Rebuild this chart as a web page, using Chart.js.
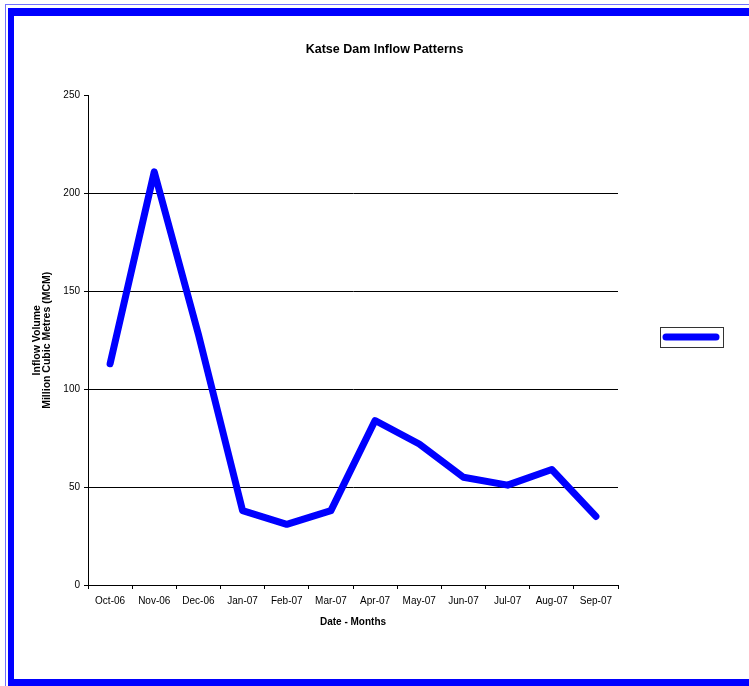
<!DOCTYPE html>
<html>
<head>
<meta charset="utf-8">
<script src="https://cdn.jsdelivr.net/npm/chart.js@4"></script>
<style>
  body { margin: 0; background: #fff; overflow: hidden; }
  #frame-outer { position: absolute; left: 5px; top: 4px; width: 800px; height: 700px; border: 1px solid #7070ff; }
  #frame-inner { position: absolute; left: 8px; top: 8px; width: 800px; height: 663px; border-style: solid; border-color: #0000ff; border-width: 8px 0 7px 6px; }
  #chart { position: absolute; left: 0; top: 0; }
</style>
</head>
<body>
<div id="frame-outer"></div>
<div id="frame-inner"></div>
<canvas id="chart" width="749" height="686"></canvas>
<script>
const months = ["Oct-06", "Nov-06", "Dec-06", "Jan-07", "Feb-07", "Mar-07",
                "Apr-07", "May-07", "Jun-07", "Jul-07", "Aug-07", "Sep-07"];
const inflow = [113, 211, 128, 38, 31, 38, 84, 72, 55, 51, 59, 35];
const yTicks = [0, 50, 100, 150, 200, 250];

const font = "'Liberation Sans', Arial, sans-serif";

// legend box on the right (line sample only, no text)
const legendBox = {
  id: "legendBox",
  afterDraw(chart) {
    const ctx = chart.ctx;
    const ds = chart.data.datasets[0];
    ctx.save();
    ctx.strokeStyle = "#333";
    ctx.lineWidth = 1;
    ctx.strokeRect(660.5, 327.5, 63, 20);
    ctx.strokeStyle = ds.borderColor;
    ctx.lineWidth = ds.borderWidth;
    ctx.lineCap = "round";
    ctx.beginPath();
    ctx.moveTo(666, 337);
    ctx.lineTo(716, 337);
    ctx.stroke();
    ctx.restore();
  }
};

new Chart(document.getElementById("chart"), {
  type: "line",
  data: {
    labels: months,
    datasets: [{
      label: "",
      data: inflow,
      borderColor: "#0000ff",
      borderWidth: 7,
      borderCapStyle: "round",
      borderJoinStyle: "round",
      pointRadius: 0,
      tension: 0
    }]
  },
  options: {
    responsive: false,
    animation: false,
    layout: { padding: { left: 20, right: 0, top: 0, bottom: 0 } },
    plugins: {
      legend: { display: false },
      tooltip: { enabled: false },
      title: {
        display: true,
        text: "Katse Dam Inflow Patterns",
        color: "#000",
        font: { family: font, size: 12.5, weight: "bold", lineHeight: 1 },
        padding: { top: 43, bottom: 40 }
      }
    },
    scales: {
      x: {
        offset: true,
        grid: { offset: true, drawOnChartArea: false, color: "#000", tickLength: 4 },
        border: { color: "#000", width: 1 },
        ticks: { color: "#000", font: { family: font, size: 10 }, padding: 6, maxRotation: 0, autoSkip: false },
        title: {
          display: true,
          text: "Date - Months",
          color: "#000",
          font: { family: font, size: 10, weight: "bold", lineHeight: 1 },
          padding: { top: 0, bottom: 59 }
        },
        afterFit(s) { s.height = 101; }
      },
      y: {
        min: 0,
        max: 250,
        afterBuildTicks(s) { s.ticks = yTicks.map(v => ({ value: v })); },
        grid: {
          color: c => (c.tick && c.tick.value === 250 ? "rgba(0,0,0,0)" : "#000"),
          tickColor: "#000",
          tickLength: 4
        },
        border: { color: "#000", width: 1 },
        ticks: { color: "#000", font: { family: font, size: 10 }, padding: 4 },
        title: {
          display: true,
          text: ["Inflow Volume", "Million Cubic Metres (MCM)"],
          color: "#000",
          font: { family: font, size: 10.5, weight: "bold", lineHeight: 0.95 },
          padding: { top: 12, bottom: 0 }
        },
        afterFit(s) { s.width = 68; }
      },
      y2: {
        position: "right",
        display: true,
        grid: { display: false },
        border: { display: false },
        ticks: { display: false },
        afterFit(s) { s.width = 131; }
      }
    }
  },
  plugins: [legendBox]
});
</script>
</body>
</html>
